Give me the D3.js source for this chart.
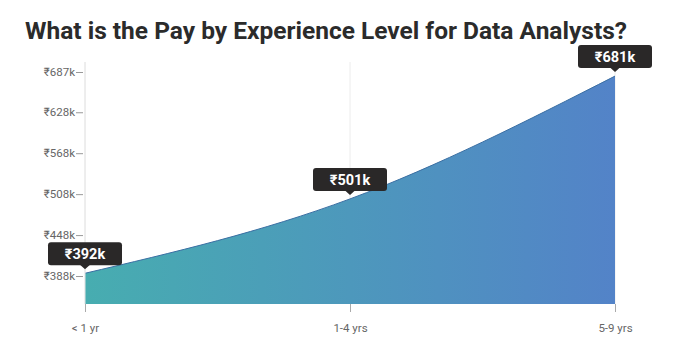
<!DOCTYPE html>
<html>
<head>
<meta charset="utf-8">
<script src="https://cdn.jsdelivr.net/npm/d3@7"></script>
<style>
  body { margin: 0; background: #fff; }
  svg { font-family: Roboto, sans-serif; }
</style>
</head>
<body>
<svg id="chart" width="679" height="363"></svg>
<script>
const levels = ['< 1 yr', '1-4 yrs', '5-9 yrs'];
const pay = [392, 501, 681];
const yTicks = [388, 448, 508, 568, 628, 687];

const svg = d3.select('#chart');
const mLeft = 85, mRight = 615, mTop = 62, mBottom = 304;

svg.append('text')
  .attr('x', 25).attr('y', 39)
  .attr('font-size', 24.5).attr('font-weight', 700)
  .attr('fill', '#2b2b2b')
  .text('What is the Pay by Experience Level for Data Analysts?');

const x = d3.scalePoint().domain(levels).range([mLeft, mRight]);
const y = d3.scaleLinear().domain([347, 687]).range([mBottom, 72]);

// vertical grid lines
svg.append('g').selectAll('line')
  .data(levels)
  .join('line')
  .attr('x1', d => x(d)).attr('x2', d => x(d))
  .attr('y1', mTop).attr('y2', mBottom)
  .attr('stroke', '#ececec').attr('stroke-width', 1);

const defs = svg.append('defs');
const grad = defs.append('linearGradient').attr('id', 'fillGrad')
  .attr('x1', '0%').attr('x2', '100%').attr('y1', '0%').attr('y2', '0%');
grad.append('stop').attr('offset', '0%').attr('stop-color', '#47adb0');
grad.append('stop').attr('offset', '100%').attr('stop-color', '#5383c8');

const area = d3.area()
  .x((d, i) => x(levels[i]))
  .y0(mBottom)
  .y1(d => y(d))
  .curve(d3.curveMonotoneX);
const line = d3.line()
  .x((d, i) => x(levels[i]))
  .y(d => y(d))
  .curve(d3.curveMonotoneX);

svg.append('path').datum(pay).attr('d', area).attr('fill', 'url(#fillGrad)');
svg.append('path').datum(pay).attr('d', line)
  .attr('fill', 'none').attr('stroke', '#3b6fa3').attr('stroke-width', 1);

// y axis
const yAxis = svg.append('g').attr('transform', `translate(${mLeft},0)`)
  .call(d3.axisLeft(y).tickValues(yTicks).tickSize(7).tickPadding(1).tickFormat(d => `₹${d}k`));
yAxis.select('.domain').attr('stroke', '#e6e6e6').attr('d', `M0,${mTop}V${mBottom}`);
yAxis.selectAll('.tick line').attr('stroke', '#999').attr('x2', -2).attr('x1', -9);
yAxis.selectAll('.tick text').attr('fill', '#666').attr('font-size', 11.5)
  .attr('x', -10)
  .attr('font-family', 'Roboto, sans-serif');

// x axis
const xAxis = svg.append('g').attr('transform', `translate(0,${mBottom})`)
  .call(d3.axisBottom(x).tickSize(8).tickPadding(12));
xAxis.select('.domain').remove();
xAxis.selectAll('.tick line').attr('stroke', '#aaa');
xAxis.selectAll('.tick text').attr('fill', '#666').attr('font-size', 11.5)
  .attr('font-family', 'Roboto, sans-serif');

// labels
const tips = svg.append('g').selectAll('g')
  .data(pay)
  .join('g')
  .attr('transform', (d, i) => `translate(${x(levels[i])},${y(d) - 4})`);
tips.append('rect')
  .attr('x', -37).attr('y', -27).attr('width', 74).attr('height', 23)
  .attr('rx', 3).attr('fill', '#2a2828');
tips.append('path').attr('d', 'M-5,-4.5L0,0L5,-4.5Z').attr('fill', '#2a2828');
tips.append('text')
  .attr('y', -10).attr('text-anchor', 'middle')
  .attr('font-size', 14.5).attr('font-weight', 700).attr('fill', '#fff')
  .text(d => `₹${d}k`);
</script>
</body>
</html>
